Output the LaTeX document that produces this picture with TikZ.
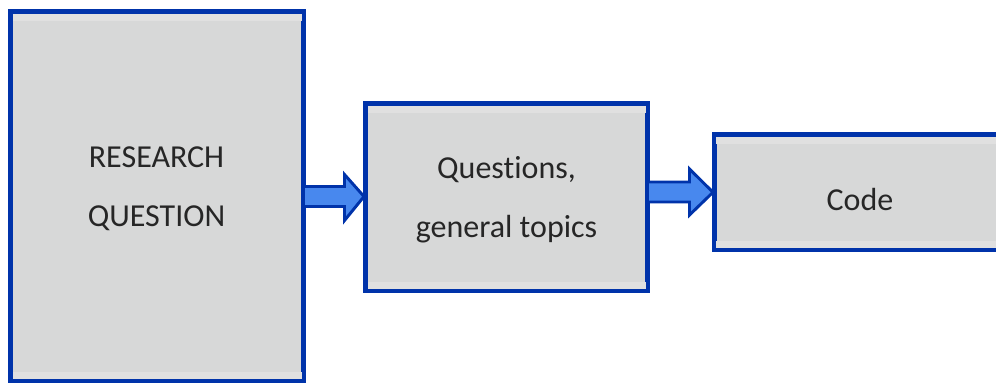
\documentclass[tikz,border=0pt]{standalone}
\usepackage{fontspec}
\setmainfont{Carlito}[RawFeature={-liga;-clig}]
\usetikzlibrary{calc}
\definecolor{boxblue}{RGB}{0,51,170}
\definecolor{arrowfill}{RGB}{72,136,238}
\definecolor{boxgray}{RGB}{215,216,216}
\definecolor{boxlight}{RGB}{224,224,224}
\definecolor{txt}{RGB}{38,38,38}
\tikzset{
  box/.style={draw=boxblue, line width=3.75pt, fill=boxgray, inner sep=0pt, outer sep=0pt, rectangle},
  lbl/.style={anchor=base, inner sep=0pt, text=txt, font=\fontsize{24}{29}\selectfont},
  fatarrow/.style={draw=boxblue, fill=arrowfill, line width=2.2pt, line join=miter},
}
\begin{document}
\begin{tikzpicture}[x=0.75pt,y=-0.75pt]
\useasboundingbox (0,0) rectangle (996,383);
% boxes
\node[box, minimum width=219.75pt, minimum height=276.75pt] (b1) at (157,196) {};
\node[box, minimum width=211.5pt, minimum height=140.25pt] (b2) at (506.5,197) {};
\node[box, minimum width=217.9pt, minimum height=85.9pt] (b3) at (859.75,192.25) {};
% lighter inner bands
\foreach \b in {b1,b2,b3}{
  \fill[boxlight] ($(\b.north west)+(2,2)$) rectangle ($(\b.north east)+(-2,9)$);
  \fill[boxlight] ($(\b.south west)+(2,-2)$) rectangle ($(\b.south east)+(-2,-9)$);
}
% texts
\node[lbl] (t1a) at (156.5,167) {RESEARCH};
\node[lbl] (t1b) at (156.5,226) {QUESTION};
\node[lbl] (t2a) at (506.5,178) {Questions,};
\node[lbl] (t2b) at (506.5,237) {general topics};
\node[lbl] (t3) at (860,210) {Code};
% arrows
\coordinate (a1s) at ($(b1.east)+(0,0.5)$);
\coordinate (a1e) at ($(b2.west)+(-1.5,-0.5)$);
\draw[fatarrow] ($(a1s)+(0,-10)$) -- ($(a1s)+(41,-10)$) -- ($(a1s)+(41,-22)$)
  -- (a1e) -- ($(a1s)+(41,24)$) -- ($(a1s)+(41,10)$) -- ($(a1s)+(0,10)$) -- cycle;
\coordinate (a2s) at ($(b2.east)+(0,-5)$);
\coordinate (a2e) at ($(b3.west)+(-1.5,0)$);
\draw[fatarrow] ($(a2s)+(0,-10)$) -- ($(a2s)+(42,-10)$) -- ($(a2s)+(42,-23)$)
  -- (a2e) -- ($(a2s)+(42,23)$) -- ($(a2s)+(42,10)$) -- ($(a2s)+(0,10)$) -- cycle;
\end{tikzpicture}
\end{document}
